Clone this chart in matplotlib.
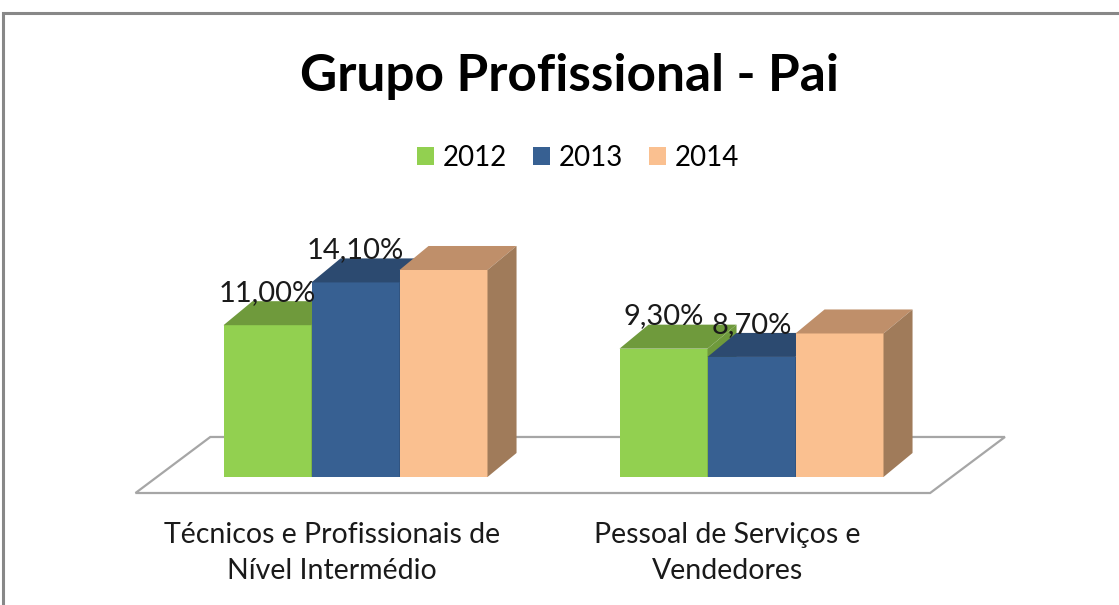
import matplotlib.pyplot as plt
from matplotlib.patches import Polygon, Rectangle
import numpy as np

# data
categories = ["Técnicos e Profissionais de\nNível Intermédio",
              "Pessoal de Serviços e\nVendedores"]
years = ["2012", "2013", "2014"]
values = {
    "2012": [11.00, 9.30],
    "2013": [14.10, 8.70],
    "2014": [15.0, 10.4],   # not labelled in the original, estimated
}
labelled = ["2012", "2013"]
labels = {"2012": ["11,00%", "9,30%"], "2013": ["14,10%", "8,70%"]}

front = {"2012": "#92D050", "2013": "#376092", "2014": "#FAC090"}
top = {"2012": "#6F9A3C", "2013": "#2C4A70", "2014": "#BF8F6A"}
side = {"2012": "#6F9A3C", "2013": "#2C4A70", "2014": "#A07B5A"}

plt.rcParams['font.family'] = ['Lato', 'DejaVu Sans']

W, H = 1119, 605
fig = plt.figure(figsize=(W / 100, H / 100), dpi=100)
ax = fig.add_axes([0, 0, 1, 1])
# 1 x unit = one bar width (88 px), 1 y unit = 1 % (13.8 px)
px_x, px_y = 88.0, 13.8
x0_px, y0_px = 355.5, 477
ax.set_xlim(-x0_px / px_x, (W - x0_px) / px_x)
ax.set_ylim(-(H - y0_px) / px_y, y0_px / px_y)
ax.axis('off')

bw = 1.0
dx, dy = 0.33, 1.74           # bar depth offset
group_pos = np.array([0.0, 4.5])

# floor
fdx, fdy = 0.85, 4.06
fx0, fx1, fy0 = -2.5, 6.53, -1.16
ax.add_patch(Polygon([(fx0, fy0), (fx1, fy0), (fx1 + fdx, fy0 + fdy), (fx0 + fdx, fy0 + fdy)],
                     closed=True, facecolor='white', edgecolor='#A6A6A6', lw=1.6, zorder=1))

z = 2
for g, gc in enumerate(group_pos):
    for i, yr in enumerate(years):
        v = values[yr][g]
        xl = gc + (i - 1.5) * bw
        xr = xl + bw
        ax.add_patch(Rectangle((xl, 0), bw, v, facecolor=front[yr], edgecolor='none', zorder=z))
        ax.add_patch(Polygon([(xl, v), (xr, v), (xr + dx, v + dy), (xl + dx, v + dy)],
                             facecolor=top[yr], edgecolor='none', zorder=z))
        ax.add_patch(Polygon([(xr, 0), (xr + dx, dy), (xr + dx, v + dy), (xr, v)],
                             facecolor=side[yr], edgecolor='none', zorder=z))
        z += 1
        if yr in labelled:
            ax.text(xl + bw / 2, v + dy - 0.35, labels[yr][g], ha='center', va='bottom',
                    fontsize=21, color='#1a1a1a', zorder=20)

# category labels
for g, gc in enumerate(group_pos):
    ax.text(gc - 0.27, (y0_px - 553) / px_y, categories[g], ha='center', va='center',
            fontsize=20.5, color='#1a1a1a', linespacing=1.45)

fig.text(569 / W, 1 - 77 / H, "Grupo Profissional - Pai", ha='center', va='center',
         fontsize=37, fontweight='bold', color='black')

handles = [Rectangle((0, 0), 1, 1, facecolor=front[yr]) for yr in years]
fig.legend(handles, years, loc='center', bbox_to_anchor=(578 / W, 1 - 158 / H), ncol=3,
           frameon=False, fontsize=20, handlelength=0.62, handleheight=0.62,
           handletextpad=0.3, columnspacing=0.95)

# chart frame
fig.patches.append(Rectangle((3 / W, -0.1), 1.2, 1 - 13 / H + 0.1, transform=fig.transFigure,
                             fill=False, edgecolor='#888888', lw=2.2))

fig.savefig("out.png", dpi=100)
